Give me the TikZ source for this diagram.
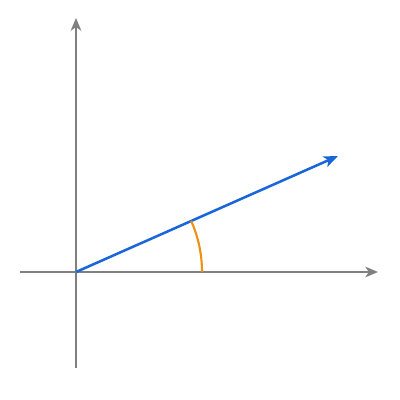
\documentclass[tikz,border=0pt]{standalone}
\usepackage{tikz}
\usetikzlibrary{arrows.meta}
\definecolor{axisgray}{HTML}{808080}
\definecolor{vecblue}{HTML}{1A66D9}
\definecolor{arcorange}{HTML}{EE9010}

\begin{document}
\begin{tikzpicture}[x=0.025cm, y=0.025cm]
\useasboundingbox (0,0) rectangle (400,400);

\coordinate (origin) at (76,128);
\coordinate (xstart) at (20,128);
\coordinate (xend) at (378,128);
\coordinate (ystart) at (76,32);
\coordinate (yend) at (76,382);
\coordinate (tip) at (338,244);
\coordinate (arcstart) at (202,128);

\draw [axisgray, line width=1.4pt, -{Stealth[length=9pt, width=7.5pt, inset=2.5pt]}] (xstart) -- (xend);
\draw [axisgray, line width=1.4pt, -{Stealth[length=9pt, width=7.5pt, inset=2.5pt]}] (ystart) -- (yend);

\draw [vecblue, line width=1.8pt, -{Stealth[length=10pt, width=8pt, inset=2.5pt]}] (origin) -- (tip);

\draw [arcorange, line width=1.5pt] (arcstart) arc [start angle=0, end angle=23.88, radius=3.15cm];
\end{tikzpicture}
\end{document}
